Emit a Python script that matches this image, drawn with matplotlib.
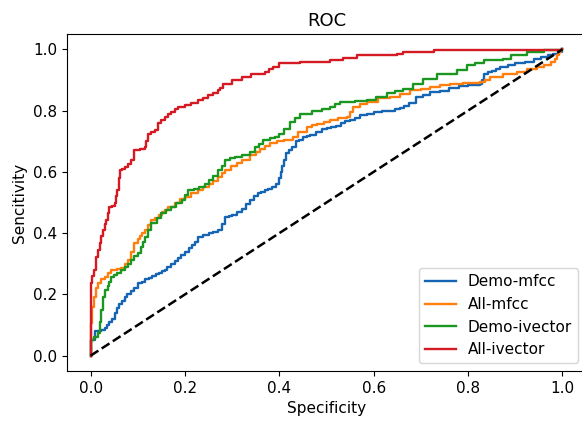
import matplotlib
matplotlib.use('Agg')
import matplotlib.pyplot as plt
import numpy as np

# ROC points, as (fpr, tpr) pairs
demo_mfcc = [(0, 0), (0, .05), (.01, .08), (.017, .082), (.023, .085), (.03, .09), (.035, .10), (.04, .11),
             (.045, .12), (.051, .14), (.055, .155), (.06, .17), (.066, .18), (.072, .193), (.078, .20),
             (.085, .21), (.092, .22), (.10, .237), (.108, .24), (.115, .25), (.123, .255), (.13, .26),
             (.138, .265), (.145, .27), (.151, .275), (.157, .28), (.163, .29), (.17, .30), (.178, .31),
             (.185, .32), (.192, .33), (.20, .34), (.208, .35), (.215, .36), (.222, .37), (.227, .389),
             (.238, .395), (.25, .40), (.26, .405), (.27, .41), (.278, .43), (.285, .454), (.293, .455),
             (.30, .46), (.31, .47), (.32, .48), (.33, .495), (.338, .508), (.346, .52), (.355, .53),
             (.362, .535), (.369, .54), (.377, .543), (.385, .55), (.393, .56), (.40, .58), (.403, .60),
             (.406, .62), (.41, .64), (.415, .66), (.42, .67), (.427, .68), (.435, .70), (.442, .705),
             (.45, .714), (.458, .717), (.465, .72), (.477, .73), (.49, .74), (.50, .742), (.51, .745),
             (.52, .75), (.53, .76), (.54, .765), (.55, .769), (.56, .775), (.57, .785), (.585, .79),
             (.60, .795), (.617, .798), (.635, .80), (.645, .805), (.655, .81), (.665, .815), (.675, .825),
             (.69, .845), (.705, .85), (.72, .86), (.74, .865), (.76, .875), (.78, .88), (.80, .885),
             (.826, .888), (.829, .90), (.833, .92), (.842, .925), (.85, .93), (.86, .935), (.868, .942),
             (.884, .948), (.90, .955), (.92, .96), (.94, .97), (.955, .975), (.97, .98), (.98, .985),
             (.99, .99), (1, 1)]

all_mfcc = [(0, 0), (0, .107), (.004, .16), (.008, .193), (.012, .22), (.015, .237), (.022, .25), (.03, .258),
            (.037, .27), (.044, .28), (.055, .283), (.065, .286), (.072, .30), (.079, .313), (.086, .34),
            (.093, .367), (.10, .38), (.105, .39), (.11, .40), (.115, .41), (.122, .425), (.129, .443),
            (.137, .45), (.145, .46), (.151, .47), (.157, .476), (.165, .485), (.178, .497), (.19, .51),
            (.20, .519), (.213, .53), (.227, .54), (.238, .55), (.25, .56), (.26, .57), (.27, .584),
            (.278, .595), (.285, .606), (.297, .618), (.31, .63), (.32, .64), (.338, .655), (.35, .665),
            (.36, .675), (.37, .685), (.38, .693), (.395, .70), (.41, .705), (.429, .714), (.44, .73),
            (.458, .747), (.47, .752), (.48, .755), (.495, .762), (.507, .769), (.525, .775), (.543, .779),
            (.55, .795), (.557, .812), (.57, .82), (.585, .828), (.61, .84), (.635, .845), (.655, .855),
            (.677, .866), (.70, .872), (.72, .877), (.74, .883), (.762, .888), (.79, .89), (.826, .894),
            (.835, .90), (.847, .91), (.875, .918), (.904, .926), (.925, .935), (.946, .942), (.96, .95),
            (.975, .958), (.985, .97), (.989, .98), (.993, .99), (.997, .997), (1, 1)]

demo_ivector = [(0, 0), (0, .05), (.008, .06), (.015, .075), (.02, .11), (.023, .15), (.027, .19), (.03, .215),
                (.036, .226), (.04, .24), (.044, .258), (.05, .264), (.057, .27), (.065, .28), (.072, .29),
                (.079, .30), (.086, .313), (.093, .325), (.10, .335), (.107, .356), (.111, .37), (.115, .389),
                (.122, .41), (.129, .432), (.14, .45), (.15, .465), (.16, .475), (.171, .486), (.182, .497),
                (.193, .508), (.2, .525), (.206, .54), (.22, .545), (.23, .55), (.242, .562), (.25, .573),
                (.26, .585), (.27, .606), (.278, .62), (.285, .638), (.295, .645), (.306, .649), (.32, .655),
                (.338, .665), (.348, .68), (.357, .69), (.366, .703), (.38, .71), (.39, .715), (.40, .725),
                (.41, .74), (.423, .763), (.433, .775), (.444, .79), (.47, .80), (.49, .805), (.507, .812),
                (.518, .82), (.529, .828), (.56, .83), (.585, .834), (.605, .845), (.628, .856), (.645, .864),
                (.663, .872), (.684, .888), (.705, .904), (.734, .92), (.776, .932), (.797, .948), (.815, .955),
                (.833, .964), (.875, .97), (.89, .98), (.925, .99), (.96, .997), (1, 1)]

all_ivector = [(0, 0), (0, .107), (0, .237), (.004, .26), (.008, .28), (.012, .323), (.016, .345), (.019, .367),
               (.023, .39), (.026, .41), (.03, .43), (.033, .443), (.037, .465), (.04, .486), (.045, .49),
               (.051, .497), (.054, .52), (.057, .54), (.06, .58), (.062, .606), (.067, .61), (.072, .617),
               (.079, .625), (.086, .638), (.093, .671), (.105, .675), (.115, .682), (.118, .70), (.121, .725),
               (.128, .73), (.136, .736), (.142, .759), (.15, .77), (.157, .779), (.164, .79), (.171, .796),
               (.178, .805), (.185, .812), (.2, .817), (.213, .825), (.227, .834), (.238, .84), (.248, .85),
               (.26, .858), (.27, .866), (.275, .875), (.28, .888), (.299, .90), (.32, .91), (.341, .92),
               (.369, .926), (.378, .935), (.387, .942), (.40, .955), (.444, .958), (.507, .964), (.535, .972),
               (.564, .98), (.649, .986), (.663, .99), (.727, .998), (1, 1)]

labels = ['Demo-mfcc', 'All-mfcc', 'Demo-ivector', 'All-ivector']
colors = ['#1565b3', '#ff7f0e', '#1b9621', '#d41a22']

plt.rcParams['font.size'] = 11

fig = plt.figure(figsize=(5.82, 4.24), dpi=100)
# right spine falls just outside the saved picture, as in the reference
ax = fig.add_axes([67 / 582, (424 - 371) / 424, (586 - 67) / 582, (371 - 34) / 424])

for pts, lab, col in zip([demo_mfcc, all_mfcc, demo_ivector, all_ivector], labels, colors):
    fpr, tpr = np.array(pts).T
    ax.plot(fpr, tpr, drawstyle='steps-post', color=col, lw=1.7, label=lab)

ax.plot([0, 1], [0, 1], 'k--', lw=1.8)

ax.set_xlim(-0.05, 1.05)
ax.set_ylim(-0.05, 1.05)
ax.set_xticks(np.arange(0, 1.01, 0.2))
ax.set_yticks(np.arange(0, 1.01, 0.2))
ax.set_xlabel('Specificity')
ax.set_ylabel('Sencitivity')
ax.set_title('ROC', fontsize=13)
ax.legend(loc='lower right')

plt.savefig('out.png', dpi=100)
